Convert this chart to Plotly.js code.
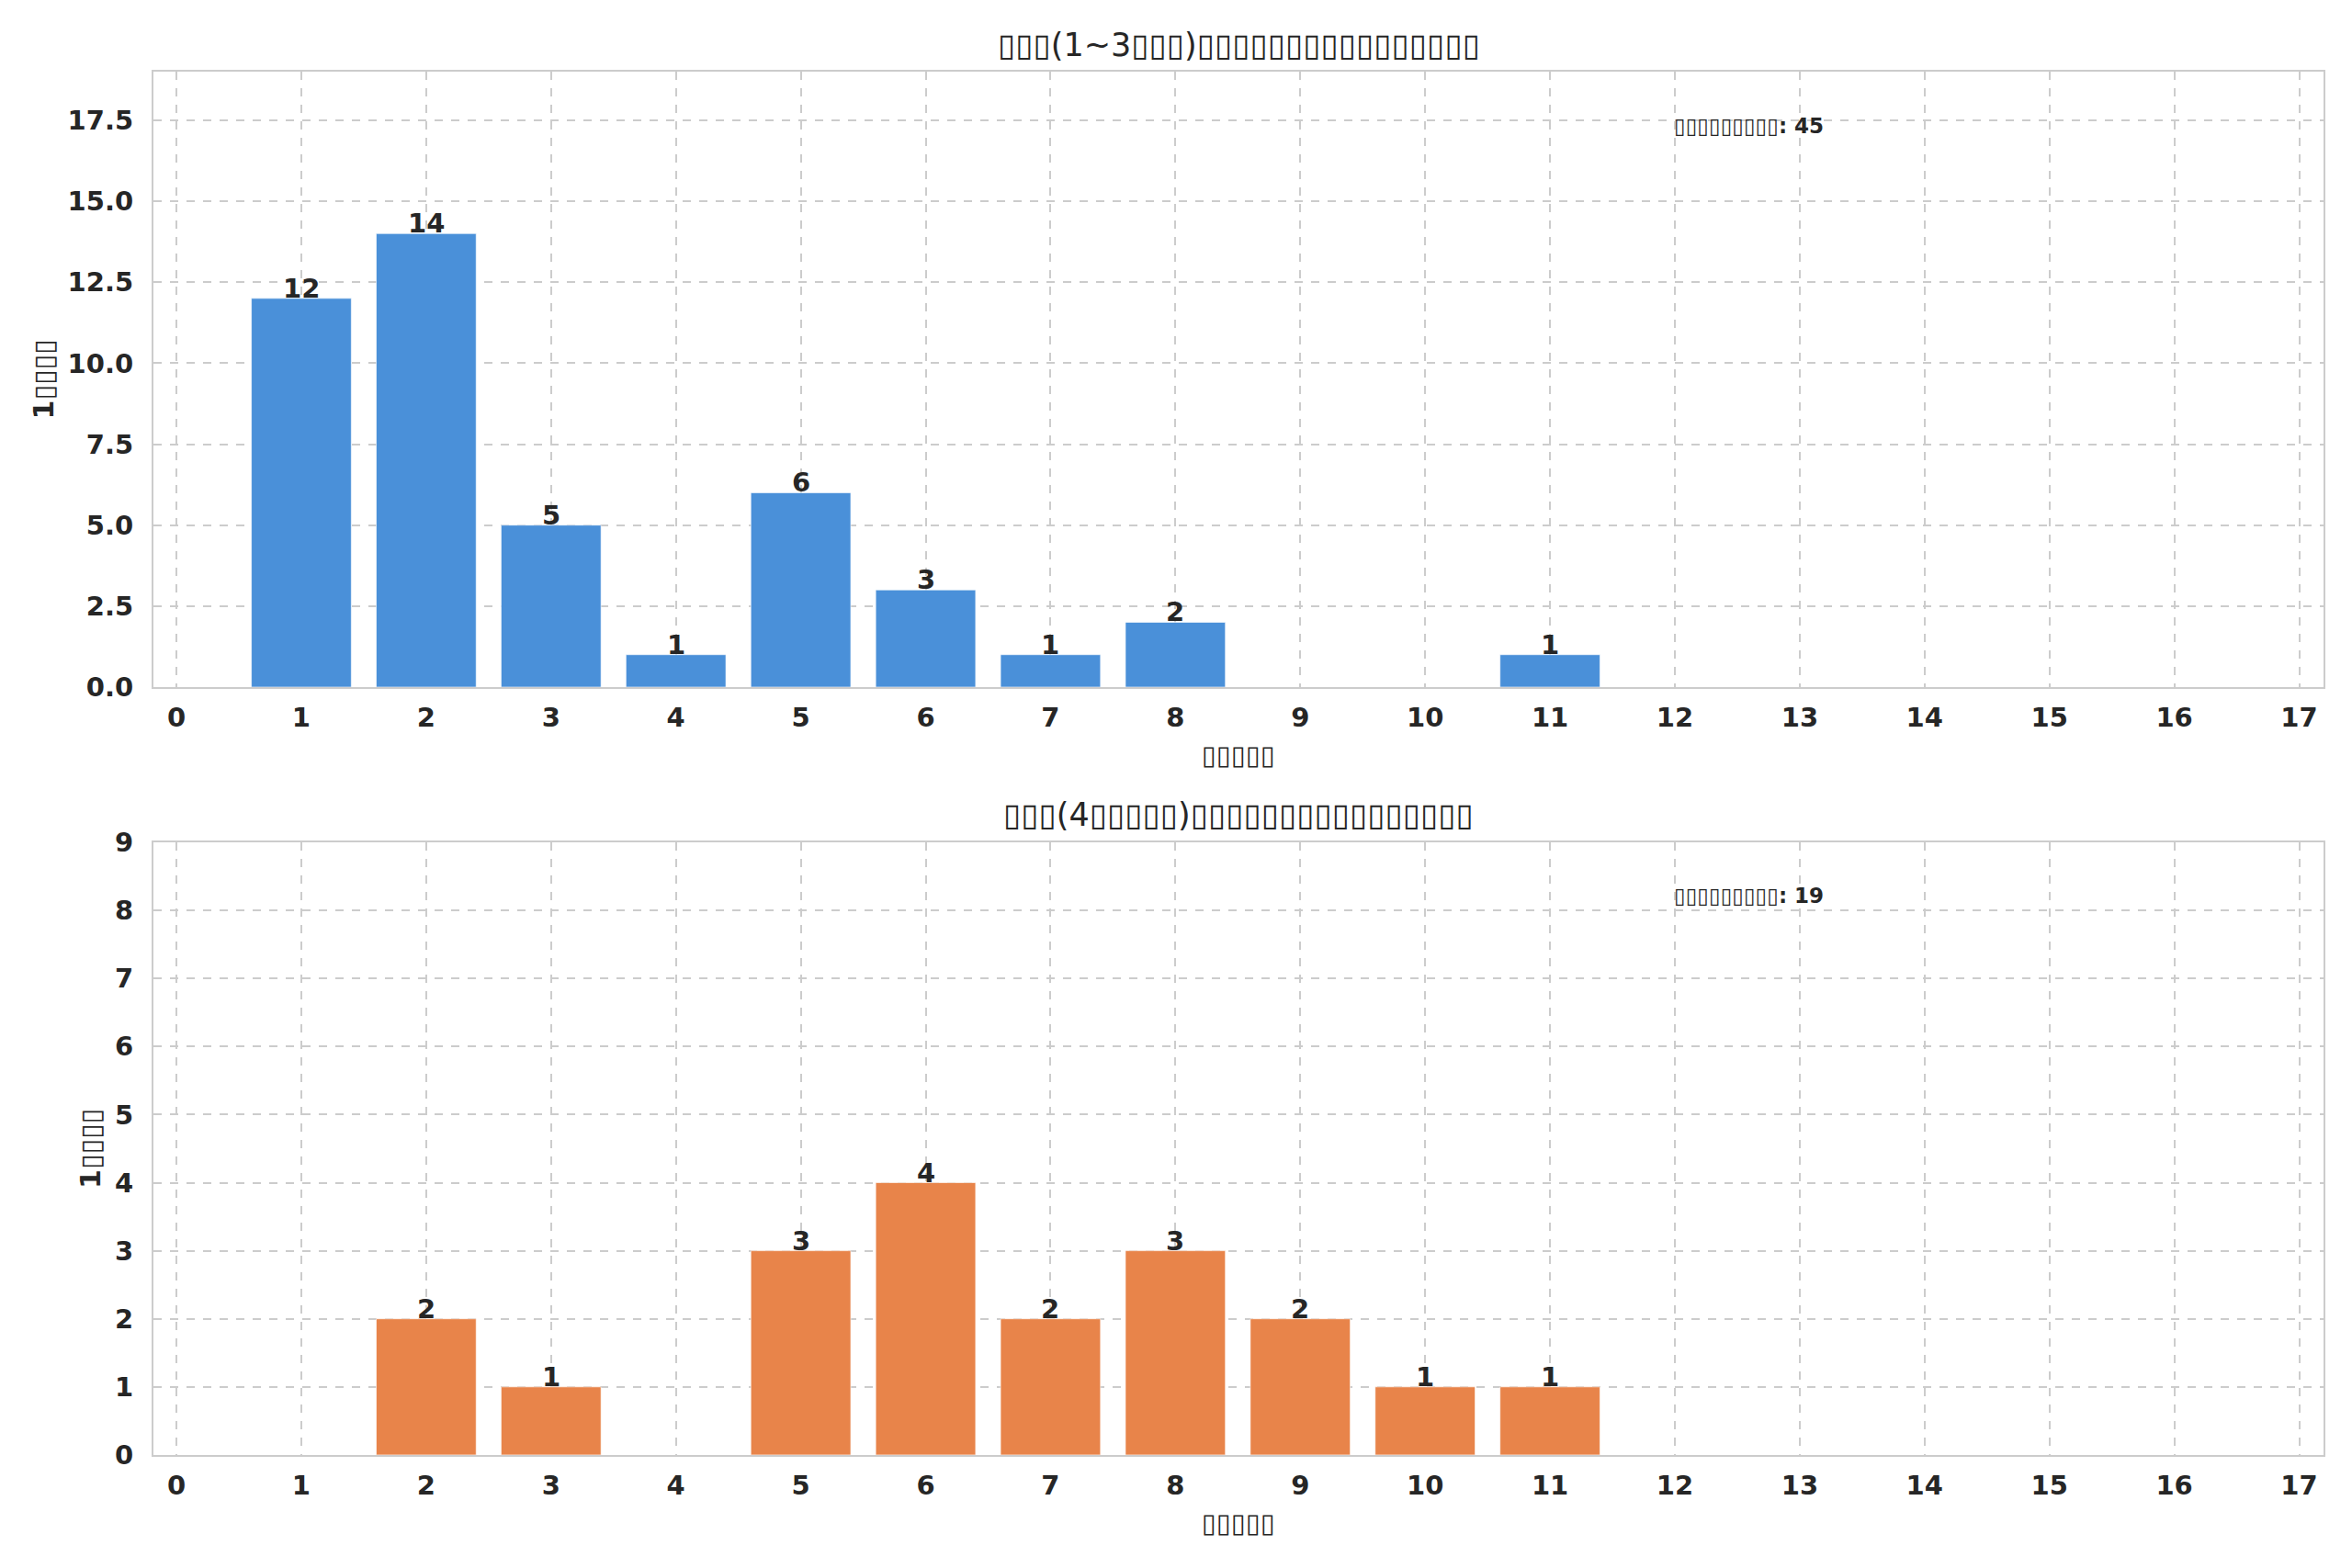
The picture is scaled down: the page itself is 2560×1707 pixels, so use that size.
<!DOCTYPE html>
<html>
<head>
<meta charset="utf-8">
<script src="https://cdn.plot.ly/plotly-3.0.1.min.js"></script>
<style>
  html, body { margin: 0; padding: 0; background: #fff; }
  #chart { width: 2560px; height: 1707px; }
</style>
</head>
<body>
<div id="chart"></div>
<script>
// the source figure lost its CJK glyphs, so the labels are tofu boxes
const topTitle = '▯▯▯(1~3▯▯▯)▯▯▯▯▯▯▯▯▯▯▯▯▯▯▯▯';
const bottomTitle = '▯▯▯(4▯▯▯▯▯)▯▯▯▯▯▯▯▯▯▯▯▯▯▯▯▯';
const xLabel = '▯▯▯▯▯';
const yLabel = '1▯▯▯▯';
const noteLabel = '▯▯▯▯▯▯▯▯▯: ';

// counts per x value
const topX = [1, 2, 3, 4, 5, 6, 7, 8, 11];
const topCounts = [12, 14, 5, 1, 6, 3, 1, 2, 1];
const bottomX = [2, 3, 5, 6, 7, 8, 9, 10, 11];
const bottomCounts = [2, 1, 3, 4, 2, 3, 2, 1, 1];
const topTotal = 45;
const bottomTotal = 19;

const xTicks = Array.from({length: 18}, (_, i) => i);

const font = 'DejaVu Sans';
const ink = '#262626';
const gridColor = '#cccccc';

function barTrace(x, y, color, xa, ya) {
    return {
        type: 'bar',
        x: x,
        y: y,
        xaxis: xa,
        yaxis: ya,
        width: 0.8,
        marker: { color: color, line: { color: 'rgba(255,255,255,0.6)', width: 1 } },
        hoverinfo: 'x+y',
        showlegend: false,
    };
}

// value labels sit right on the bar tops
function barLabels(x, y, xa, ya) {
    return x.map((xv, i) => ({
        text: '<b>' + y[i] + '</b>',
        x: xv, y: y[i], xref: xa, yref: ya,
        xanchor: 'center', yanchor: 'bottom', yshift: -8,
        showarrow: false,
        font: { family: font, size: 29, color: ink },
    }));
}

const data = [
    barTrace(topX, topCounts, '#4a90d9', 'x', 'y'),
    barTrace(bottomX, bottomCounts, '#e8844a', 'x2', 'y2'),
];

function xAxis(anchor) {
    return {
        domain: [0.0652, 0.9879],
        anchor: anchor,
        range: [-0.185, 17.195],
        tickmode: 'array',
        tickvals: xTicks,
        ticktext: xTicks.map(v => '<b>' + v + '</b>'),
        tickfont: { family: font, size: 29, color: ink },
        ticks: 'outside',
        ticklen: 6,
        tickcolor: 'rgba(0,0,0,0)',
        showgrid: true,
        gridcolor: gridColor,
        gridwidth: 2,
        griddash: 'dash',
        showline: true,
        linecolor: gridColor,
        linewidth: 2,
        mirror: true,
        zeroline: false,
        title: { text: xLabel, font: { family: font, size: 29, color: ink }, standoff: 15 },
    };
}

function yAxis(domain, anchor, range, dtick, fmt) {
    return {
        domain: domain,
        anchor: anchor,
        range: range,
        dtick: dtick,
        tick0: 0,
        tickformat: fmt,
        tickfont: { family: font, size: 29, color: ink, weight: 'bold' },
        ticks: 'outside',
        ticklen: 14,
        tickcolor: 'rgba(0,0,0,0)',
        showgrid: true,
        gridcolor: gridColor,
        gridwidth: 2,
        griddash: 'dash',
        showline: true,
        linecolor: gridColor,
        linewidth: 2,
        mirror: true,
        zeroline: false,
        title: { text: '<b>' + yLabel + '</b>', font: { family: font, size: 30, color: ink }, standoff: 6 },
    };
}

const layout = {
    width: 2560,
    height: 1707,
    paper_bgcolor: '#ffffff',
    plot_bgcolor: '#ffffff',
    margin: { l: 0, r: 0, t: 0, b: 0 },
    bargap: 0,
    xaxis: xAxis('y'),
    yaxis: yAxis([0.5618, 0.9543], 'x', [0, 19], 2.5, '.1f'),
    xaxis2: xAxis('y2'),
    yaxis2: yAxis([0.0721, 0.4628], 'x2', [0, 9], 1, 'd'),
    annotations: [
        { text: topTitle, xref: 'paper', yref: 'paper', x: 0.5266, y: 0.9713,
          xanchor: 'center', yanchor: 'middle', showarrow: false,
          font: { family: font, size: 35, color: ink } },
        { text: bottomTitle, xref: 'paper', yref: 'paper', x: 0.5266, y: 0.4804,
          xanchor: 'center', yanchor: 'middle', showarrow: false,
          font: { family: font, size: 35, color: ink } },
        { text: '<b>' + noteLabel + topTotal + '</b>', xref: 'x domain', yref: 'y domain',
          x: 0.7, y: 0.912, xanchor: 'left', yanchor: 'middle', showarrow: false,
          font: { family: font, size: 23, color: ink } },
        { text: '<b>' + noteLabel + bottomTotal + '</b>', xref: 'x2 domain', yref: 'y2 domain',
          x: 0.7, y: 0.913, xanchor: 'left', yanchor: 'middle', showarrow: false,
          font: { family: font, size: 23, color: ink } },
    ].concat(barLabels(topX, topCounts, 'x', 'y'), barLabels(bottomX, bottomCounts, 'x2', 'y2')),
};

Plotly.newPlot('chart', data, layout, { displayModeBar: false, staticPlot: true });
</script>
</body>
</html>
